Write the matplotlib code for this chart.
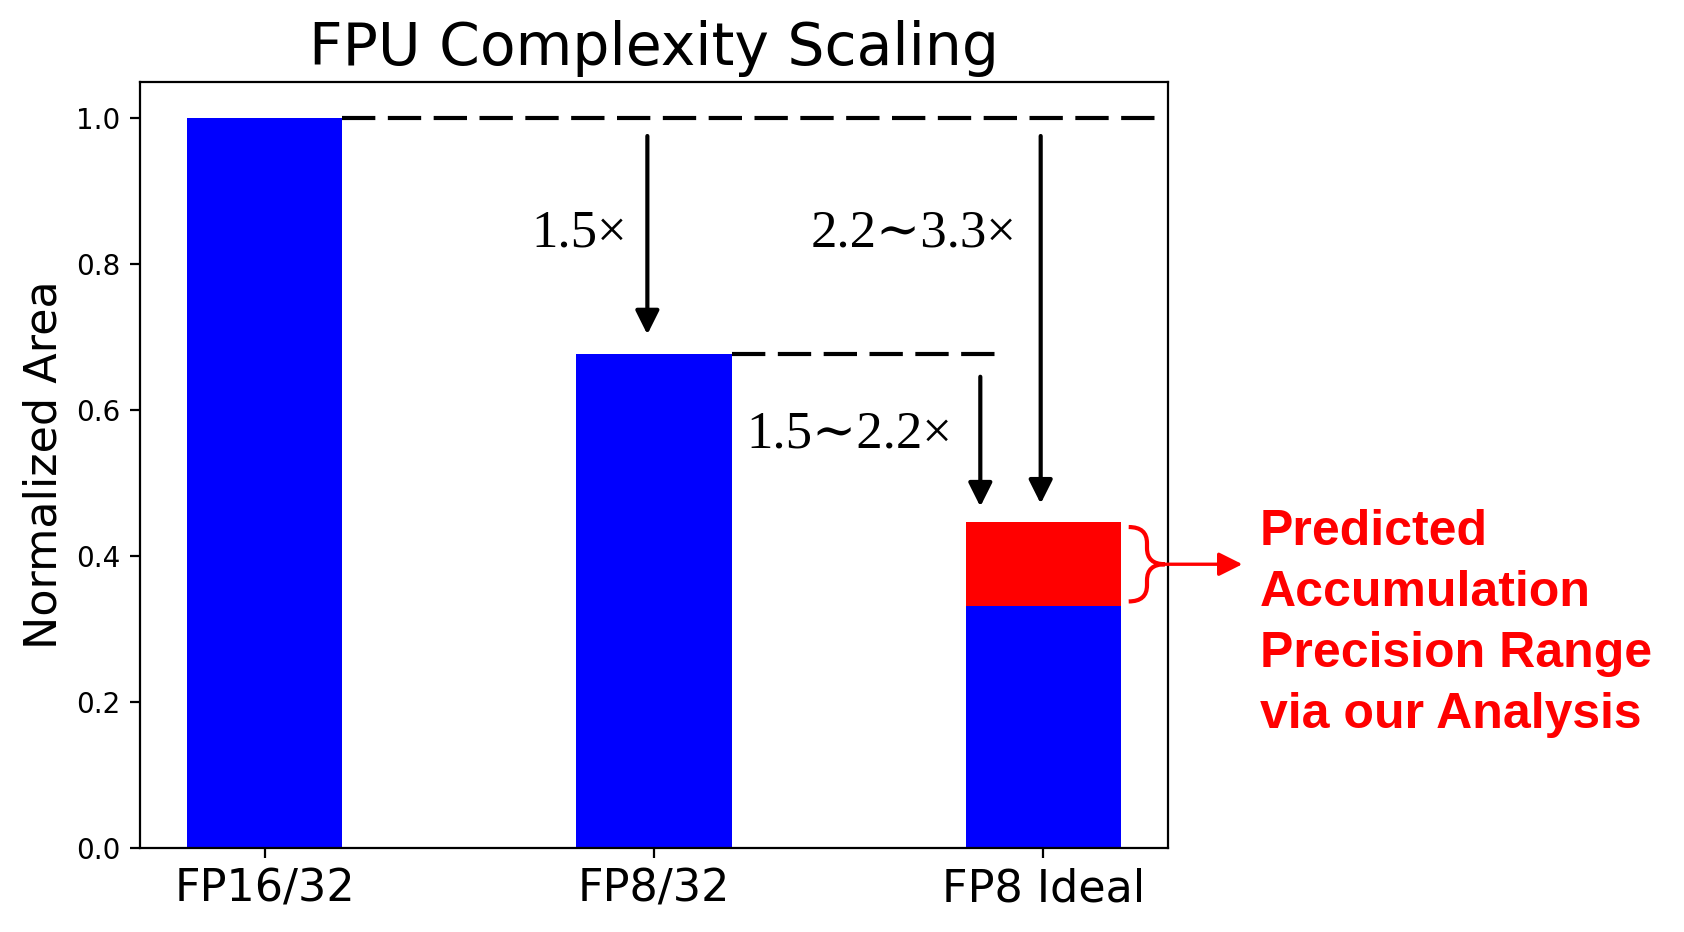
import numpy as np
import matplotlib
matplotlib.use("Agg")
import matplotlib.pyplot as plt
from matplotlib.path import Path
from matplotlib.patches import PathPatch

# data
labels = ['FP16/32', 'FP8/32', 'FP8 Ideal']
base_area = [1.0, 0.677, 0.332]
range_top = 0.447          # upper end of the FP8 Ideal estimate
ratio_text = ['1.5\u00d7', '2.2\u223c3.3\u00d7', '1.5\u223c2.2\u00d7']

fig = plt.figure(figsize=(8.42, 4.66), dpi=200)
ax = fig.add_axes([0.0831, 0.0901, 0.6105, 0.8219])

x = np.arange(len(labels))
ax.bar(x, base_area, width=0.4, color='#0000ff')
ax.bar(x[2], range_top - base_area[2], bottom=base_area[2], width=0.4, color='#ff0000')

ax.set_xticks(x)
ax.set_xticklabels(labels, fontsize=16)
ax.set_ylabel('Normalized Area', fontsize=16)
ax.set_title('FPU Complexity Scaling', fontsize=21)

# dashed reference levels
ax.plot([0.2, 2.293], [base_area[0], base_area[0]], color='black', lw=1.5,
        linestyle=(0, (8, 3)))
ax.plot([1.2, 1.88], [base_area[1], base_area[1]], color='black', lw=1.5,
        linestyle=(0, (8, 3)))

arrow_kw = dict(arrowstyle='-|>', lw=1.5, color='black', mutation_scale=18,
                shrinkA=0, shrinkB=0)
ax.annotate('', xy=(0.983, 0.704), xytext=(0.983, 0.976), arrowprops=arrow_kw)
ax.annotate('', xy=(1.993, 0.472), xytext=(1.993, 0.976), arrowprops=arrow_kw)
ax.annotate('', xy=(1.838, 0.468), xytext=(1.838, 0.646), arrowprops=arrow_kw)

serif = ['Liberation Serif', 'DejaVu Serif']
ax.text(0.93, 0.8245, ratio_text[0], ha='right', va='baseline', fontsize=19, family=serif)
ax.text(1.932, 0.8245, ratio_text[1], ha='right', va='baseline', fontsize=19, family=serif)
ax.text(1.767, 0.549, ratio_text[2], ha='right', va='baseline', fontsize=19, family=serif)

# curly brace next to the red range
x0, xm, x1 = 2.219, 2.266, 2.312
yt, yb = 0.440, 0.338
ym = (yt + yb) / 2
r = 0.022
verts = [(x0, yt), (xm, yt), (xm, yt - r), (xm, ym + r), (xm, ym), (x1, ym),
         (xm, ym), (xm, ym - r), (xm, yb + r), (xm, yb), (x0, yb)]
codes = [Path.MOVETO, Path.CURVE3, Path.CURVE3, Path.LINETO, Path.CURVE3, Path.CURVE3,
         Path.CURVE3, Path.CURVE3, Path.LINETO, Path.CURVE3, Path.CURVE3]
ax.add_patch(PathPatch(Path(verts, codes), facecolor='none', edgecolor='#ff0000',
                       lw=1.5, clip_on=False))
ax.annotate('', xy=(2.511, ym), xytext=(x1, ym),
            arrowprops=dict(arrowstyle='-|>', lw=1.2, color='#ff0000',
                            mutation_scale=18, shrinkA=0, shrinkB=0),
            annotation_clip=False)

ax.set_xlim(-0.32, 2.32)
ax.set_ylim(0, 1.05)

fig.text(0.748, 0.2184, 'Predicted\nAccumulation\nPrecision Range\nvia our Analysis',
         color='#ff0000', fontsize=18, fontweight='bold', family='Liberation Sans',
         ha='left', va='baseline', linespacing=1.42)

fig.savefig('out.png', dpi=200)
